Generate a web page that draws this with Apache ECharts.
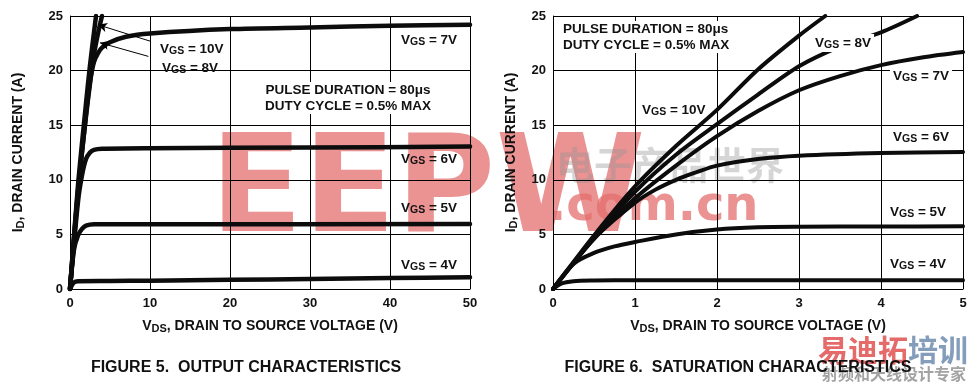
<!DOCTYPE html>
<html>
<head>
<meta charset="utf-8">
<script src="https://cdn.jsdelivr.net/npm/echarts@6.0.0/dist/echarts.min.js"></script>
<style>
html,body{margin:0;padding:0;background:#fff;}
#c{width:974px;height:382px;}
</style>
</head>
<body>
<div id="c"></div>
<script>
// ---------- DATA ----------
// Figure 5: output characteristics (V_DS 0..50 V, I_D 0..25 A)
const fig5XTicks = [0, 10, 20, 30, 40, 50];
const fig5YTicks = [0, 5, 10, 15, 20, 25];
const fig5_vgs10 = [[0,0],[1,9.5],[2,17],[2.5,20.5],[3,23.5],[3.25,25]];
const fig5_vgs8  = [[0,0],[1,9],[2,15.8],[2.5,18.8],[3,21.5],[3.5,23.4],[4,25]];
const fig5_vgs7  = [[0,0],[1,8.8],[2,16],[2.5,19],[3,20.8],[3.5,21.6],[4,22.1],[5,22.6],[7,23.1],[10,23.4],[20,23.8],[30,23.95],[40,24.1],[50,24.2]];
const fig5_vgs6  = [[0,0],[1,8],[1.5,10.4],[2,11.9],[2.5,12.5],[3,12.75],[4,12.85],[10,12.9],[30,12.95],[50,13.05]];
const fig5_vgs5  = [[0,0],[0.5,3.6],[1,4.9],[1.5,5.5],[2,5.8],[3,5.92],[10,5.93],[50,5.95]];
const fig5_vgs4  = [[0,0],[0.5,0.6],[1,0.72],[5,0.74],[10,0.76],[20,0.84],[30,0.92],[40,1.0],[50,1.08]];
// leader arrows (label end -> curve), in data units
const fig5_arrow10 = [[10,22.7],[3.5,24.2]];
const fig5_arrow8  = [[9.8,21.3],[3.75,22.55]];

// Figure 6: saturation characteristics (V_DS 0..5 V, I_D 0..25 A)
const fig6XTicks = [0, 1, 2, 3, 4, 5];
const fig6YTicks = [0, 5, 10, 15, 20, 25];
const fig6_vgs10 = [[0,0],[0.5,4.9],[1,9.4],[1.5,13.1],[2,16.4],[2.5,20.1],[3,23.2],[3.32,25]];
const fig6_vgs8  = [[0,0],[0.5,4.7],[1,8.9],[1.5,12.3],[2,15.1],[2.5,17.8],[3,20.4],[3.5,22.2],[4,23.5],[4.44,25]];
const fig6_vgs7  = [[0,0],[0.5,4.6],[1,8.3],[1.5,11.3],[2,14],[2.5,16.3],[3,18.2],[3.5,19.5],[4,20.5],[4.5,21.2],[5,21.7]];
const fig6_vgs6  = [[0,0],[0.5,4.6],[1,7.9],[1.25,9.1],[1.5,10],[1.75,10.7],[2,11.3],[2.5,11.9],[3,12.2],[4,12.45],[5,12.55]];
const fig6_vgs5  = [[0,0],[0.25,2.3],[0.5,3.3],[0.75,3.9],[1,4.3],[1.5,5],[2,5.45],[2.5,5.65],[3,5.7],[4,5.72],[5,5.75]];
const fig6_vgs4  = [[0,0],[0.1,0.5],[0.25,0.72],[0.5,0.78],[1,0.8],[3,0.8],[5,0.8]];

// ---------- STYLE / LAYOUT ----------
const FONT = '"Liberation Sans", Arial, Helvetica, sans-serif';
const INK = '#111';
const chart = echarts.init(document.getElementById('c'), null, {renderer: 'canvas'});

function axisX(idx, ticks) {
  return {
    type: 'value', gridIndex: idx,
    min: ticks[0], max: ticks[ticks.length - 1], interval: ticks[1] - ticks[0],
    name: '{b|V}{s|DS}{b|, DRAIN TO SOURCE VOLTAGE (V)}',
    nameLocation: 'middle', nameGap: 29,
    nameTextStyle: {
      rich: {
        b: {fontFamily: FONT, fontWeight: 'bold', fontSize: 14, color: INK, lineHeight: 16},
        s: {fontFamily: FONT, fontWeight: 'bold', fontSize: 11, color: INK, lineHeight: 6, verticalAlign: 'bottom'}
      }
    },
    axisLine: {show: true, lineStyle: {color: '#000', width: 1}},
    axisTick: {show: false},
    axisLabel: {fontFamily: FONT, fontWeight: 'bold', fontSize: 13, color: INK, margin: 8},
    splitLine: {show: true, lineStyle: {color: '#000', width: 1}}
  };
}
function axisY(idx, ticks, gap) {
  return {
    type: 'value', gridIndex: idx,
    min: ticks[0], max: ticks[ticks.length - 1], interval: ticks[1] - ticks[0],
    name: '{b|I}{s|D}{b|, DRAIN CURRENT (A)}',
    nameLocation: 'middle', nameGap: gap, nameRotate: 90,
    nameTextStyle: {
      rich: {
        b: {fontFamily: FONT, fontWeight: 'bold', fontSize: 14, color: INK, lineHeight: 16},
        s: {fontFamily: FONT, fontWeight: 'bold', fontSize: 11, color: INK, lineHeight: 6, verticalAlign: 'bottom'}
      }
    },
    axisLine: {show: true, lineStyle: {color: '#000', width: 1}},
    axisTick: {show: false},
    axisLabel: {fontFamily: FONT, fontWeight: 'bold', fontSize: 13, color: INK, margin: 7},
    splitLine: {show: true, lineStyle: {color: '#000', width: 1}}
  };
}
function curve(xi, data, w, extra) {
  return Object.assign({
    type: 'line', xAxisIndex: xi, yAxisIndex: xi, data: data,
    showSymbol: false, symbol: 'none', smooth: 0.3,
    lineStyle: {color: '#0c0c0c', width: w, cap: 'round', join: 'round'},
    clip: true, silent: true, z: 3
  }, extra || {});
}
const richVGS = {
  v: {fontFamily: FONT, fontWeight: 'bold', fontSize: 13.5, fill: INK, lineHeight: 16},
  s: {fontFamily: FONT, fontWeight: 'bold', fontSize: 10.5, fill: INK, lineHeight: 6, verticalAlign: 'bottom'}
};
function vgsLabel(val, x, y, bg) {
  return {
    type: 'text', x: x, y: y, z: 20,
    style: {
      text: '{v|V}{s|GS}{v| = ' + val + '}', rich: richVGS,
      align: 'left', verticalAlign: 'middle',
      backgroundColor: bg ? '#fff' : null, padding: bg ? [1, 3, 1, 3] : 0
    }
  };
}
function plainText(txt, x, y, align, size, bg) {
  return {
    type: 'text', x: x, y: y, z: 20,
    style: {
      text: txt, fill: INK, align: align, verticalAlign: 'middle',
      font: 'bold ' + size + 'px ' + FONT,
      backgroundColor: bg ? '#fff' : null, padding: bg ? [1, 3, 1, 3] : 0
    }
  };
}
function wm(txt, x, y, size, color, family, align) {
  return {
    type: 'text', x: x, y: y, z: -10, silent: true,
    style: {text: txt, fill: color, font: 'bold ' + size + 'px ' + family, align: align || 'left', verticalAlign: 'middle'}
  };
}

const arrowLine = (pts) => [{coord: pts[0], symbol: 'none'}, {coord: pts[1], symbol: 'arrow'}];

const option = {
  animation: false,
  backgroundColor: '#fff',
  grid: [
    {left: 70, top: 16, width: 400, height: 273, show: false},
    {left: 553, top: 16, width: 410, height: 273, show: false}
  ],
  xAxis: [axisX(0, fig5XTicks), axisX(1, fig6XTicks)],
  yAxis: [axisY(0, fig5YTicks, 44), axisY(1, fig6YTicks, 34)],
  series: [
    curve(0, fig5_vgs4, 4.5),
    curve(0, fig5_vgs5, 4.5),
    curve(0, fig5_vgs6, 4.5),
    curve(0, fig5_vgs7, 4.5),
    curve(0, fig5_vgs8, 4.5),
    curve(0, fig5_vgs10, 4.5, {
      markLine: {
        silent: true, animation: false, symbolSize: [7, 9],
        lineStyle: {color: '#000', width: 1, type: 'solid'},
        label: {show: false},
        data: [arrowLine(fig5_arrow10), arrowLine(fig5_arrow8)]
      }
    }),
    curve(1, fig6_vgs4, 4),
    curve(1, fig6_vgs5, 4),
    curve(1, fig6_vgs6, 4),
    curve(1, fig6_vgs7, 4),
    curve(1, fig6_vgs8, 4),
    curve(1, fig6_vgs10, 4)
  ],
  graphic: [
    // watermark (behind the chart)
    wm('EEPW', 210, 196, 136, 'rgba(228,110,110,0.75)', '"DejaVu Sans", sans-serif'),
    wm('电子产品世界', 556, 165, 38, 'rgba(150,150,150,0.4)', '"Noto Sans CJK SC", sans-serif'),
    wm('.com.cn', 548, 208, 48, 'rgba(228,110,110,0.75)', '"DejaVu Sans", sans-serif'),
    wm('易迪拓', 818, 350, 30, 'rgba(225,80,80,0.85)', '"Noto Sans CJK SC", sans-serif'),
    wm('培训', 908, 350, 30, 'rgba(110,140,175,0.85)', '"Noto Sans CJK SC", sans-serif'),
    wm('射频和天线设计专家', 966, 374, 16, 'rgba(140,140,140,0.8)', '"Noto Sans CJK SC", sans-serif', 'right'),

    // figure 5 annotations
    vgsLabel('7V', 401, 40, false),
    vgsLabel('10V', 160, 49, false),
    vgsLabel('8V', 162, 68, false),
    plainText('PULSE DURATION = 80μs', 348, 90, 'center', 13.5, true),
    plainText('DUTY CYCLE = 0.5% MAX', 348, 106, 'center', 13.5, true),
    vgsLabel('6V', 401, 159, false),
    vgsLabel('5V', 401, 208, false),
    vgsLabel('4V', 401, 265, false),

    // figure 6 annotations
    plainText('PULSE DURATION = 80μs', 560, 29, 'left', 13.5, true),
    plainText('DUTY CYCLE = 0.5% MAX', 560, 45, 'left', 13.5, true),
    vgsLabel('10V', 642, 110, false),
    vgsLabel('8V', 812, 43, true),
    vgsLabel('7V', 890, 76, true),
    vgsLabel('6V', 890, 137, true),
    vgsLabel('5V', 890, 212, false),
    vgsLabel('4V', 890, 264, false),

    // captions
    plainText('FIGURE 5.  OUTPUT CHARACTERISTICS', 246, 368, 'center', 16, false),
    plainText('FIGURE 6.  SATURATION CHARACTERISTICS', 738, 368, 'center', 16, false)
  ]
};
chart.setOption(option);
</script>
</body>
</html>
